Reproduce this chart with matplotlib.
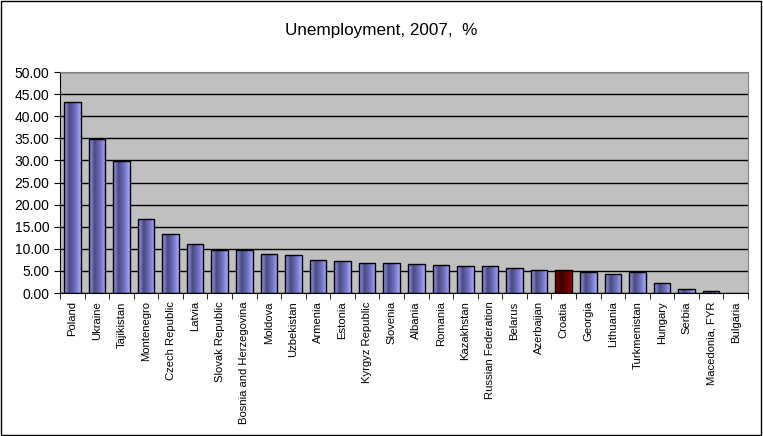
import numpy as np
import matplotlib.pyplot as plt
from matplotlib.patches import Rectangle
from matplotlib.colors import LinearSegmentedColormap

plt.rcParams['font.family'] = ['Liberation Sans', 'DejaVu Sans']

countries = ['Poland', 'Ukraine', 'Tajikistan', 'Montenegro', 'Czech Republic', 'Latvia',
             'Slovak Republic', 'Bosnia and Herzegovina', 'Moldova', 'Uzbekistan', 'Armenia',
             'Estonia', 'Kyrgyz Republic', 'Slovenia', 'Albania', 'Romania', 'Kazakhstan',
             'Russian Federation', 'Belarus', 'Azerbaijan', 'Croatia', 'Georgia', 'Lithuania',
             'Turkmenistan', 'Hungary', 'Serbia', 'Macedonia, FYR', 'Bulgaria']
unemployment = [43.1, 34.8, 29.9, 16.7, 13.3, 11.1, 9.7, 9.8, 8.8, 8.5, 7.4,
                7.2, 6.7, 6.7, 6.5, 6.3, 6.0, 6.0, 5.6, 5.1, 5.1, 4.7, 4.3,
                4.7, 2.3, 0.9, 0.4, 0.0]
highlight = 'Croatia'

blue = LinearSegmentedColormap.from_list('b', ['#9a9af0', '#4a4a80', '#7070c0', '#a8a8ff'])
red = LinearSegmentedColormap.from_list('r', ['#8a0000', '#3a0000', '#600000', '#900000'])
grad = np.linspace(0, 1, 64).reshape(1, -1)

fig = plt.figure(figsize=(7.63, 4.36), dpi=100)
ax = fig.add_axes([60 / 763, 1 - 293 / 436, 688 / 763, 221 / 436])
ax.set_facecolor('#c0c0c0')

x = np.arange(len(countries))
w = 0.67
ax.set_yticks(np.arange(0, 51, 5))
ax.set_yticklabels(['%.2f' % v for v in np.arange(0, 51, 5)], fontsize=10)
ax.yaxis.grid(True, color='black', linewidth=1)
ax.set_axisbelow(True)

for xi, name, v in zip(x, countries, unemployment):
    if v <= 0:
        continue
    cmap = red if name == highlight else blue
    im = ax.imshow(grad, cmap=cmap, extent=[xi - w / 2, xi + w / 2, 0, v],
                   aspect='auto', zorder=2)
    r = Rectangle((xi - w / 2, 0), w, v, facecolor='none', edgecolor='black',
                  linewidth=1, zorder=3)
    ax.add_patch(r)
    im.set_clip_path(r)
ax.set_xlim(-0.5, len(countries) - 0.5)
ax.set_ylim(0, 50)

ax.set_xticks(x)
ax.set_xticklabels(countries, rotation=90, fontsize=8.1)
ax.tick_params(axis='x', length=0, pad=6)
ax.set_xticks(np.arange(-0.5, len(countries), 1), minor=True)
ax.tick_params(axis='x', which='minor', length=4, direction='out')
ax.tick_params(axis='y', length=4, direction='out')

for s in ['top', 'right']:
    ax.spines[s].set_color('#808080')
for s in ['left', 'bottom']:
    ax.spines[s].set_color('black')

fig.text(0.5, 1 - 30 / 436, 'Unemployment, 2007,  %', ha='center', va='center', fontsize=12.3)
fig.patches.append(Rectangle((0.001, 0.002), 0.997, 0.996, transform=fig.transFigure,
                             fill=False, edgecolor='black', linewidth=1))

fig.savefig('out.png', dpi=100, facecolor='white')
